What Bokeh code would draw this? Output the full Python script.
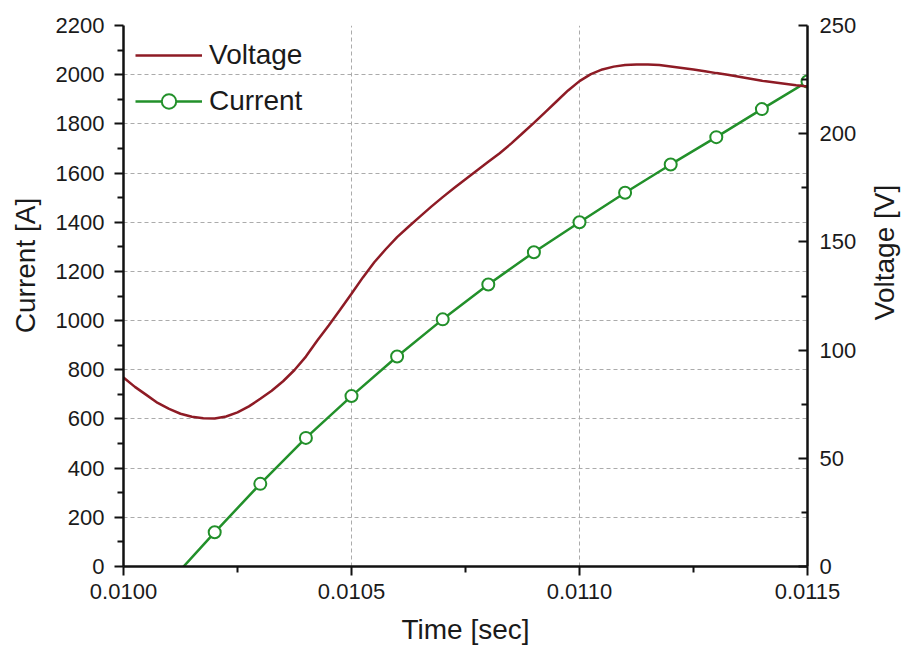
import math
from bokeh.plotting import figure
from bokeh.models import (Range1d, LinearAxis, FixedTicker, PrintfTickFormatter,
                          Legend, LegendItem, Label)
from bokeh.embed import file_html
from bokeh.resources import INLINE

# Voltage trace (right axis)
time_v = [0.010000, 0.010025, 0.010050, 0.010075, 0.010100, 0.010125, 0.010150, 0.010175,
          0.010200, 0.010225, 0.010250, 0.010275, 0.010300, 0.010325, 0.010350, 0.010375,
          0.010400, 0.010425, 0.010450, 0.010475, 0.010500, 0.010525, 0.010550, 0.010575,
          0.010600, 0.010625, 0.010650, 0.010675, 0.010700, 0.010725, 0.010750, 0.010775,
          0.010800, 0.010825, 0.010850, 0.010875, 0.010900, 0.010925, 0.010950, 0.010975,
          0.011000, 0.011025, 0.011050, 0.011075, 0.011100, 0.011125, 0.011150, 0.011175,
          0.011200, 0.011225, 0.011250, 0.011275, 0.011300, 0.011325, 0.011350, 0.011375,
          0.011400, 0.011425, 0.011450, 0.011475, 0.011500]
voltage = [87.3, 83.0, 79.3, 75.6, 72.8, 70.6, 69.2, 68.5,
           68.4, 69.3, 71.2, 74.0, 77.5, 81.2, 85.6, 90.8,
           97.0, 104.4, 111.4, 118.6, 126.0, 133.6, 140.6, 146.6,
           152.2, 157.0, 161.7, 166.3, 170.7, 174.9, 179.0, 183.0,
           187.0, 191.0, 195.4, 200.2, 205.0, 210.0, 215.0, 220.0,
           224.3, 227.5, 229.7, 231.0, 231.7, 232.0, 232.0, 231.7,
           231.1, 230.4, 229.7, 228.9, 228.0, 227.2, 226.3, 225.4,
           224.5, 223.8, 223.1, 222.4, 221.8]

# Current samples (left axis)
time_i = [0.0101, 0.0102, 0.0103, 0.0104, 0.0105, 0.0106, 0.0107, 0.0108,
          0.0109, 0.0110, 0.0111, 0.0112, 0.0113, 0.0114, 0.0115]
current = [-65, 139, 336, 523, 693, 854, 1005, 1147,
           1278, 1400, 1520, 1635, 1746, 1860, 1972]

x_ticks = [0.0100, 0.0105, 0.0110, 0.0115]
x_minor = [0.01025, 0.01075, 0.01125]
i_ticks = list(range(0, 2201, 200))
i_minor = list(range(100, 2200, 200))
v_ticks = list(range(0, 251, 50))
v_minor = list(range(25, 250, 50))

RED = "#8E1B25"
GREEN = "#22902A"
INK = "#1a1a1a"
FONT = "Liberation Sans"

p = figure(width=904, height=658, output_backend="svg", toolbar_location=None,
           x_range=Range1d(0.0100, 0.0115), y_range=Range1d(0, 2200),
           min_border_left=123, min_border_right=97, min_border_top=25,
           min_border_bottom=92)
p.outline_line_color = None
p.background_fill_color = "white"
p.border_fill_color = "white"
p.extra_y_ranges = {"volt": Range1d(0, 250)}

# grid
p.xgrid.ticker = FixedTicker(ticks=[0.0105, 0.0110])
p.ygrid.ticker = FixedTicker(ticks=list(range(200, 2001, 200)))
for g in (p.xgrid, p.ygrid):
    g.grid_line_color = "#ababab"
    g.grid_line_dash = "4 3"
    g.grid_line_width = 1

def style_axis(ax):
    ax.axis_line_width = 2.5
    ax.axis_line_color = "#111111"
    ax.major_tick_line_width = 2
    ax.minor_tick_line_width = 2
    ax.major_tick_line_color = "#111111"
    ax.minor_tick_line_color = "#111111"
    ax.major_label_text_font = FONT
    ax.major_label_text_font_size = "22px"
    ax.major_label_text_color = INK
    ax.axis_label_text_font = FONT
    ax.axis_label_text_font_size = "28px"
    ax.axis_label_text_font_style = "normal"
    ax.axis_label_text_color = INK

xa = p.xaxis[0]
xa.ticker = FixedTicker(ticks=x_ticks, minor_ticks=x_minor)
xa.formatter = PrintfTickFormatter(format="%.4f")
xa.axis_label = "Time [sec]"
style_axis(xa)
xa.major_tick_out = 9
xa.major_tick_in = 0
xa.minor_tick_out = 6
xa.minor_tick_in = 0
xa.major_label_standoff = 8
xa.axis_label_standoff = 12

ya = p.yaxis[0]
ya.ticker = FixedTicker(ticks=i_ticks, minor_ticks=i_minor)
style_axis(ya)
ya.major_tick_out = 9
ya.major_tick_in = 0
ya.minor_tick_out = 6
ya.minor_tick_in = 0
ya.major_label_standoff = 10

va = LinearAxis(y_range_name="volt", ticker=FixedTicker(ticks=v_ticks, minor_ticks=v_minor))
style_axis(va)
va.major_tick_out = 0
va.major_tick_in = 9
va.minor_tick_out = 0
va.minor_tick_in = 6
va.major_label_standoff = 12
p.add_layout(va, "right")

# vertical axis titles in the side panels, a little above the frame middle
title_style = dict(x_units="screen", y_units="screen", angle=math.pi / 2,
                   text_align="center", text_baseline="middle",
                   text_font=FONT, text_font_size="28px", text_color=INK)
p.add_layout(Label(x=4, y=301, text="Current [A]", **title_style), "left")
p.add_layout(Label(x=25, y=314, text="Voltage [V]", **title_style), "right")

# current: line with hollow circle markers
ri_line = p.line(time_i, current, line_color=GREEN, line_width=2.5)
ri_pts = p.scatter(time_i, current, marker="circle", size=12, fill_color="white",
                   line_color=GREEN, line_width=2)

# voltage on the secondary axis
rv = p.line(time_v, voltage, line_color=RED, line_width=2.5, y_range_name="volt")

legend = Legend(items=[LegendItem(label="Voltage", renderers=[rv]),
                       LegendItem(label="Current", renderers=[ri_line, ri_pts])],
                location="top_left", margin=12, padding=0, spacing=10,
                glyph_width=67, glyph_height=36, label_height=36,
                label_standoff=7, label_text_font=FONT,
                label_text_font_size="28px", label_text_color=INK,
                background_fill_alpha=0, border_line_color=None)
p.add_layout(legend)

open("out.html", "w").write(file_html(p, INLINE))
